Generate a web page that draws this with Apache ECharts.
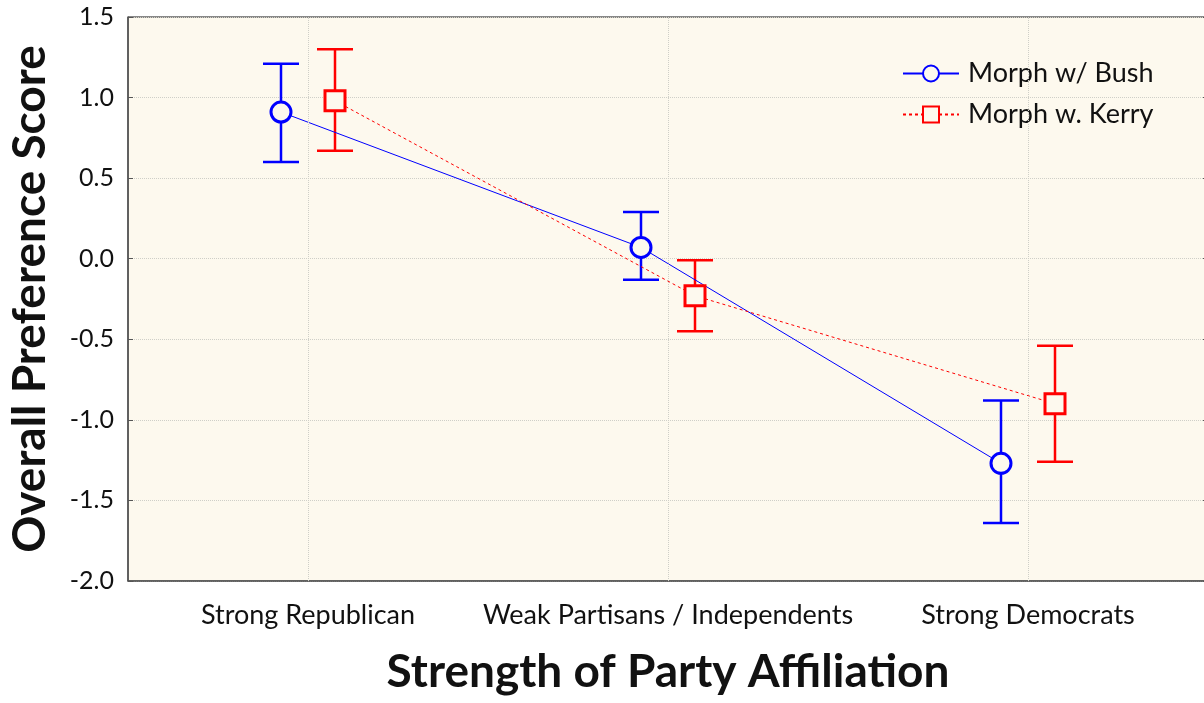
<!DOCTYPE html>
<html>
<head>
<meta charset="utf-8">
<script src="https://cdn.jsdelivr.net/npm/echarts@6/dist/echarts.min.js"></script>
<style>
  html, body { margin: 0; padding: 0; background: #fff; }
  #chart-container { width: 1204px; height: 703px; }
</style>
</head>
<body>
<div id="chart-container"></div>
<script>
const categories = ["Strong Republican", "Weak Partisans / Independents", "Strong Democrats"];

const bushMean = [0.91, 0.07, -1.27];
const bushLow = [0.60, -0.13, -1.64];
const bushHigh = [1.21, 0.29, -0.88];

const kerryMean = [0.98, -0.23, -0.90];
const kerryLow = [0.67, -0.45, -1.26];
const kerryHigh = [1.30, -0.01, -0.54];

const yTicks = [-2.0, -1.5, -1.0, -0.5, 0.0, 0.5, 1.0, 1.5];

// horizontal dodge of the two groups around each category centre
const dodge = 0.075;

const font = "Lato, 'Open Sans', sans-serif";
const blue = "#0000ff";
const red = "#ff0000";
const bg = "#fdf9ee";

const bushPoints = bushMean.map((v, i) => [i - dodge, v]);
const kerryPoints = kerryMean.map((v, i) => [i + dodge, v]);
const bushBars = bushMean.map((v, i) => [i - dodge, bushLow[i], bushHigh[i]]);
const kerryBars = kerryMean.map((v, i) => [i + dodge, kerryLow[i], kerryHigh[i]]);

function errorBar(color) {
  return function (params, api) {
    const x = api.value(0);
    const lo = api.coord([x, api.value(1)]);
    const hi = api.coord([x, api.value(2)]);
    const w = 18;
    const style = { stroke: color, lineWidth: 2.5 };
    return {
      type: "group",
      children: [
        { type: "line", shape: { x1: lo[0], y1: lo[1], x2: hi[0], y2: hi[1] }, style: style },
        { type: "line", shape: { x1: lo[0] - w, y1: lo[1], x2: lo[0] + w, y2: lo[1] }, style: style },
        { type: "line", shape: { x1: hi[0] - w, y1: hi[1], x2: hi[0] + w, y2: hi[1] }, style: style },
      ],
    };
  };
}

const dom = document.getElementById("chart-container");
const myChart = echarts.init(dom, null, { renderer: "canvas" });

const option = {
  animation: false,
  textStyle: { fontFamily: font },
  grid: {
    left: 128,
    right: -4,
    top: 17,
    bottom: 122,
    outerBoundsMode: "none",
    containLabel: false,
    show: true,
    backgroundColor: bg,
    borderColor: "#111",
    borderWidth: 1,
  },
  legend: {
    orient: "vertical",
    left: 897,
    top: 55,
    itemWidth: 56,
    itemHeight: 20,
    itemGap: 14,
    textStyle: { fontSize: 27, color: "#111", fontFamily: font, padding: [0, 0, 0, 4] },
    data: ["Morph w/ Bush", "Morph w. Kerry"],
  },
  xAxis: [
    {
      type: "category",
      data: categories,
      boundaryGap: true,
      axisLine: { onZero: false, lineStyle: { color: "#555", width: 1.5 } },
      axisTick: { inside: true, alignWithLabel: true, length: 6, lineStyle: { color: "#555" } },
      axisLabel: { interval: 0, fontSize: 27, color: "#111", margin: 21, fontFamily: font },
      splitLine: { show: false },
      name: "Strength of Party Affiliation",
      nameLocation: "middle",
      nameGap: 68,
      nameTextStyle: { fontSize: 46, fontWeight: "bold", color: "#111", fontFamily: font },
    },
    {
      type: "value",
      min: -0.5,
      max: 2.5,
      show: false,
      axisLine: { onZero: false },
    },
  ],
  yAxis: [
    {
      type: "value",
      min: yTicks[0],
      max: yTicks[yTicks.length - 1],
      interval: 0.5,
      axisLine: { show: true, onZero: false, lineStyle: { color: "#555", width: 1.5 } },
      axisTick: { show: true, inside: true, length: 5, lineStyle: { color: "#555" } },
      axisLabel: {
        fontSize: 25,
        color: "#111",
        margin: 14,
        fontFamily: font,
        formatter: (v) => v.toFixed(1),
      },
      splitLine: { show: true, lineStyle: { color: "#cfcfc8", type: "dotted", width: 1 } },
      name: "Overall Preference Score",
      nameLocation: "middle",
      nameRotate: 90,
      nameGap: 75,
      nameTextStyle: { fontSize: 46, fontWeight: "bold", color: "#111", fontFamily: font },
    },
    {
      type: "value",
      position: "right",
      min: yTicks[0],
      max: yTicks[yTicks.length - 1],
      interval: 0.5,
      axisLine: { show: true, onZero: false, lineStyle: { color: "#555" } },
      axisTick: { show: true, inside: true, length: 5, lineStyle: { color: "#555" } },
      axisLabel: { show: false },
      splitLine: { show: false },
    },
  ],
  series: [
    {
      name: "grid-x",
      type: "line",
      xAxisIndex: 1,
      data: [],
      silent: true,
      markLine: {
        silent: true,
        symbol: "none",
        label: { show: false },
        lineStyle: { color: "#cfcfc8", type: "dotted", width: 1 },
        data: categories.map((c, i) => ({ xAxis: i })),
      },
      z: 1,
    },
    {
      name: "bush-err",
      type: "custom",
      xAxisIndex: 1,
      renderItem: errorBar(blue),
      data: bushBars,
      z: 2,
    },
    {
      name: "kerry-err",
      type: "custom",
      xAxisIndex: 1,
      renderItem: errorBar(red),
      data: kerryBars,
      z: 2,
    },
    {
      name: "Morph w/ Bush",
      type: "line",
      xAxisIndex: 1,
      data: bushPoints,
      symbol: "circle",
      symbolSize: 20,
      lineStyle: { color: blue, width: 1 },
      itemStyle: { color: bg, borderColor: blue, borderWidth: 3 },
      z: 3,
    },
    {
      name: "Morph w. Kerry",
      type: "line",
      xAxisIndex: 1,
      data: kerryPoints,
      symbol: "rect",
      symbolSize: 20,
      lineStyle: { color: red, width: 1, type: [3, 3] },
      itemStyle: { color: bg, borderColor: red, borderWidth: 3 },
      z: 3,
    },
  ],
};

myChart.setOption(option);
window.addEventListener("resize", myChart.resize);
</script>
</body>
</html>
